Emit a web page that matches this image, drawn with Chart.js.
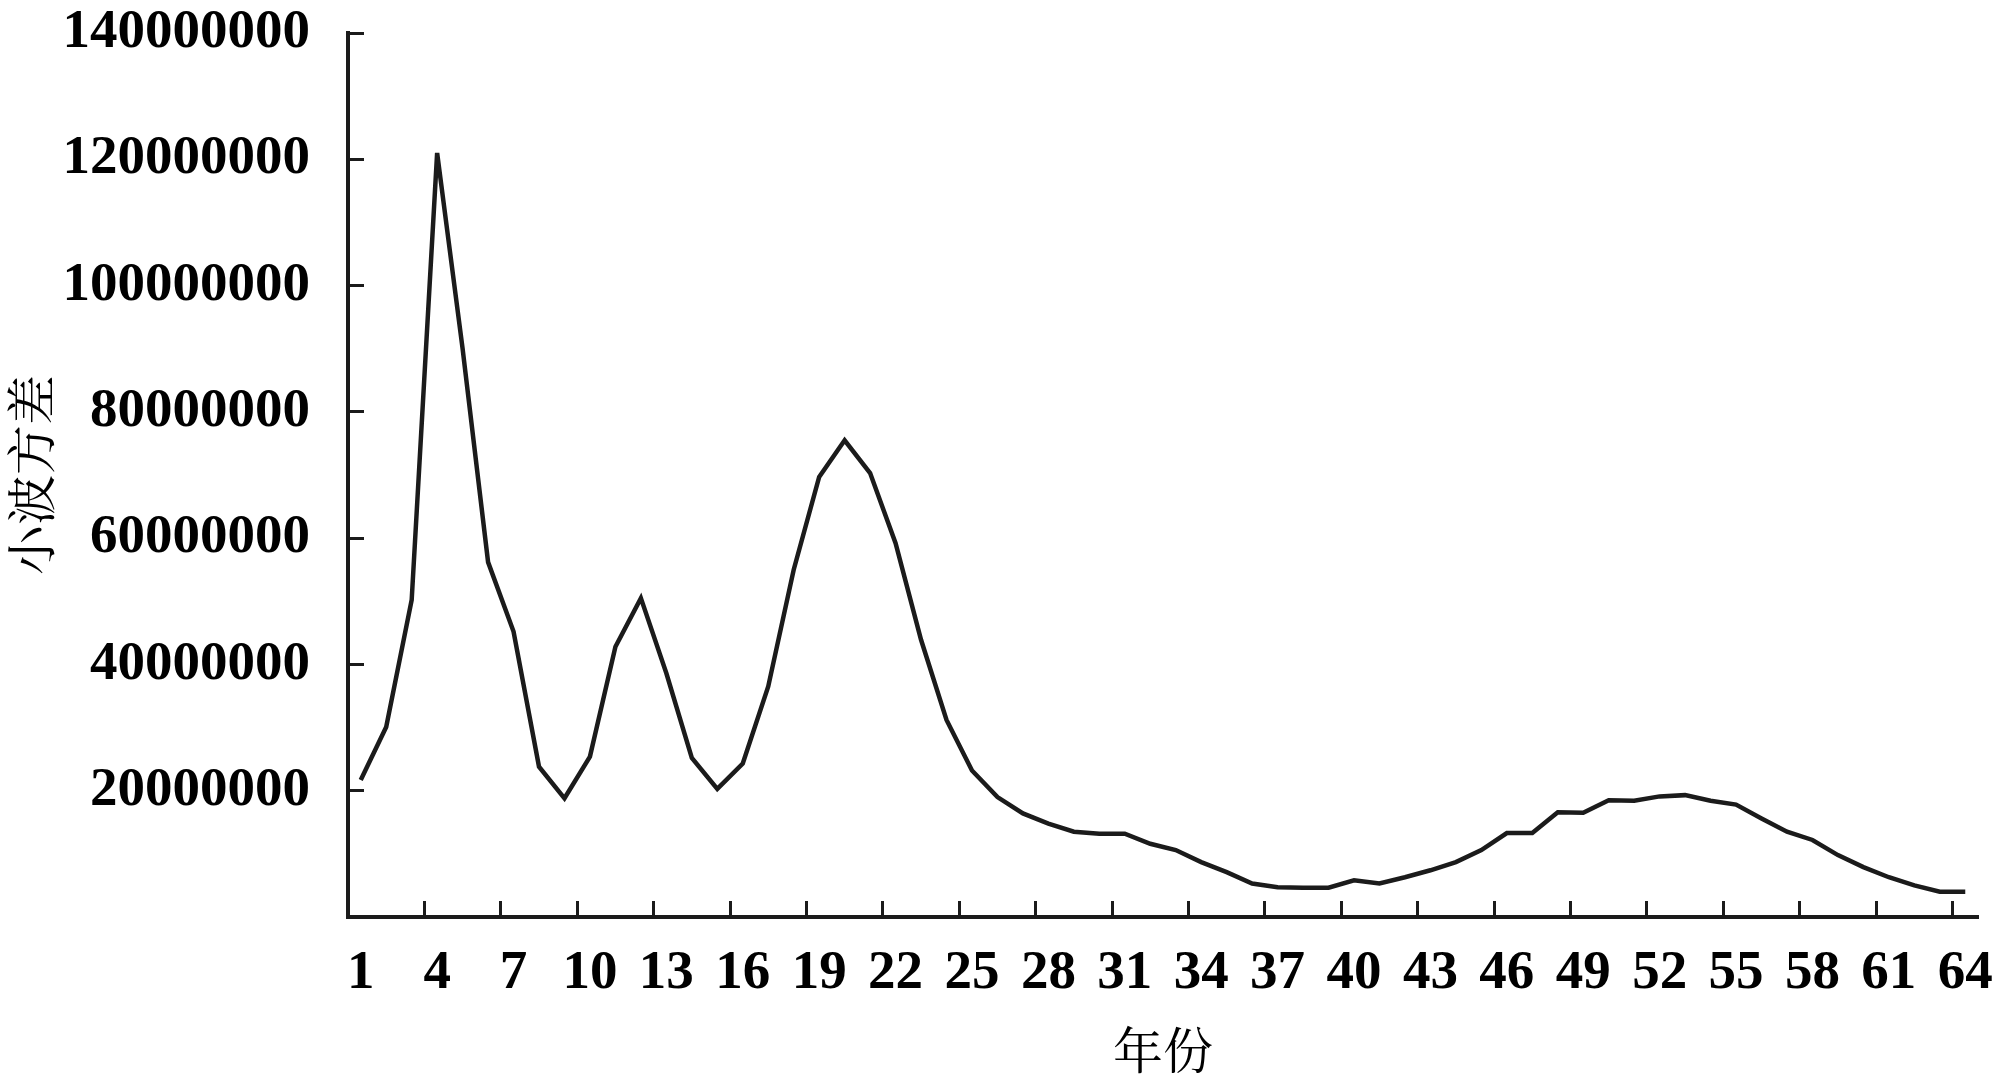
<!DOCTYPE html>
<html>
<head>
<meta charset="utf-8">
<script src="https://cdn.jsdelivr.net/npm/chart.js@4/dist/chart.umd.min.js"></script>
<style>
html,body{margin:0;padding:0;background:#ffffff;}
#wrap{width:2000px;height:1083px;}
</style>
</head>
<body>
<div id="wrap"><canvas id="c" width="2000" height="1083"></canvas></div>
<script>
// categories (年份 index)
const years = ['1','2','3','4','5','6','7','8','9','10','11','12','13','14','15','16',
  '17','18','19','20','21','22','23','24','25','26','27','28','29','30','31','32',
  '33','34','35','36','37','38','39','40','41','42','43','44','45','46','47','48',
  '49','50','51','52','53','54','55','56','57','58','59','60','61','62','63','64'];

// 小波方差 series
const waveletVariance = [
  21700000, 30100000, 50200000, 121000000, 90000000, 56200000, 45200000, 23800000,
  18800000, 25400000, 42800000, 50500000, 38600000, 25200000, 20300000, 24300000,
  36500000, 55000000, 69700000, 75500000, 70300000, 59200000, 43900000, 31200000,
  23200000, 19000000, 16400000, 14800000, 13500000, 13200000, 13200000, 11600000,
  10600000, 8700000, 7100000, 5300000, 4700000, 4650000, 4650000, 5800000,
  5300000, 6300000, 7400000, 8700000, 10600000, 13300000, 13300000, 16600000,
  16500000, 18500000, 18400000, 19100000, 19300000, 18400000, 17800000, 15600000,
  13500000, 12200000, 9800000, 7900000, 6300000, 5000000, 4000000, 4000000
];

// tick labels shown on the axes
const xTickLabels = ['1','4','7','10','13','16','19','22','25','28','31','34','37','40','43',
  '46','49','52','55','58','61','64'];
const yTickLabels = ['20000000','40000000','60000000','80000000','100000000','120000000','140000000'];

const yAxisTitle = '小波方差';
const xAxisTitle = '年份';

const INK = '#1b1b1b';
const numFont = {family: '"Liberation Serif", "Times New Roman", serif', weight: 'bold', size: 55, lineHeight: 1.2};
const cjkFont = {family: '"Noto Serif CJK SC", "Noto Sans CJK SC", serif', weight: 'normal', size: 50, lineHeight: 1.0};

new Chart(document.getElementById('c'), {
  type: 'line',
  data: {
    labels: years,
    datasets: [{
      label: yAxisTitle,
      data: waveletVariance,
      borderColor: INK,
      borderWidth: 4.5,
      pointRadius: 0,
      tension: 0,
      fill: false
    }]
  },
  options: {
    responsive: false,
    animation: false,
    devicePixelRatio: 1,
    layout: {padding: {left: 6, right: 22, top: 33, bottom: 0}},
    plugins: {legend: {display: false}, tooltip: {enabled: false}},
    scales: {
      x: {
        type: 'category',
        offset: true,
        border: {display: true, color: INK, width: 4},
        grid: {
          offset: true,
          drawOnChartArea: false,
          drawTicks: true,
          tickLength: -16,
          tickWidth: 3,
          tickColor: (ctx) => (ctx.index % 3 === 0 && ctx.index < years.length) ? INK : 'rgba(0,0,0,0)'
        },
        ticks: {
          autoSkip: false,
          maxRotation: 0,
          minRotation: 0,
          color: '#000',
          font: numFont,
          padding: 40,
          callback: function(value, index) {
            const lab = this.getLabelForValue(value);
            return xTickLabels.includes(lab) ? lab : '';
          }
        },
        title: {
          display: true,
          text: xAxisTitle,
          color: '#000',
          font: {family: cjkFont.family, size: 50, lineHeight: 1.2},
          padding: {top: 0, bottom: 3}
        },
        afterFit: (scale) => { scale.height = 166; scale.paddingLeft = 0; scale.paddingRight = 0; }
      },
      y: {
        min: 0,
        max: 140000000,
        border: {display: true, color: INK, width: 4},
        grid: {
          drawOnChartArea: false,
          drawTicks: true,
          tickLength: -16,
          tickWidth: 3,
          tickColor: INK
        },
        ticks: {
          stepSize: 20000000,
          color: '#000',
          font: numFont,
          padding: 54,
          callback: (value) => yTickLabels.includes(String(value)) ? String(value) : ''
        },
        title: {
          display: true,
          text: yAxisTitle,
          color: '#000',
          font: cjkFont,
          padding: {top: 0, bottom: 0}
        },
        afterFit: (scale) => { scale.width = 342; scale.paddingTop = 0; scale.paddingBottom = 0; }
      }
    }
  }
});
</script>
</body>
</html>
